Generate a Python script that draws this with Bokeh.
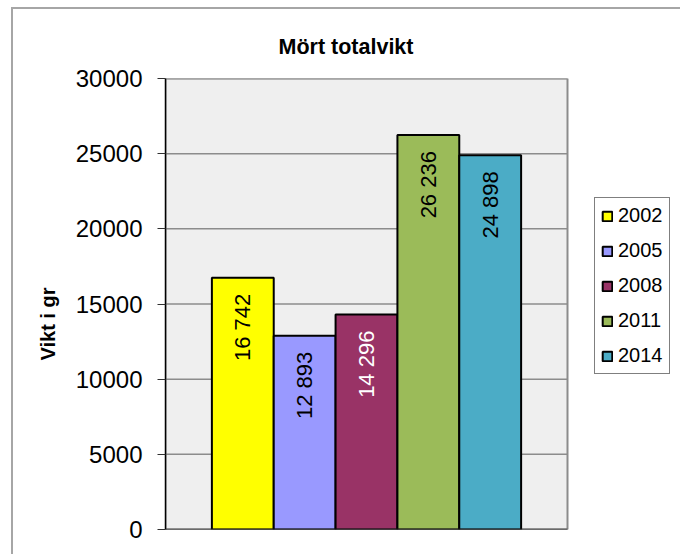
import math
from bokeh.plotting import figure
from bokeh.models import Range1d, FixedTicker, Legend, LegendItem, Title
from bokeh.core.properties import value
from bokeh.embed import file_html
from bokeh.resources import INLINE

# ---- data ----
title = "Mört totalvikt"
y_label = "Vikt i gr"
years = ["2002", "2005", "2008", "2011", "2014"]
weights = [16742, 12893, 14296, 26236, 24898]
y_ticks = [0, 5000, 10000, 15000, 20000, 25000, 30000]

# ---- styles ----
colors = ["#FFFF00", "#9999FF", "#993366", "#9BBB59", "#4BACC6"]
label_colors = ["black", "black", "white", "black", "black"]
FONT = "Liberation Sans"

W, H = 680, 554
FL, FT, FR, FB = 165, 78, 0, 25
AREA_W = 402            # pixel width of the grey plot area
YMAX = 30000
frame_w = W - FL - FR
XMAX = frame_w / AREA_W  # frame also holds the legend, right of the plot area

p = figure(width=W, height=H, output_backend="svg", toolbar_location=None,
           x_range=Range1d(0, XMAX), y_range=Range1d(0, YMAX),
           min_border_left=FL, min_border_right=FR,
           min_border_top=FT, min_border_bottom=FB,
           background_fill_color=None, border_fill_color=None)
p.outline_line_color = None

# outer chart border (only its left and top edges are inside the window)
line = "linear-gradient(#A6A6A6, #A6A6A6)"
p.styles = {
    "background": f"{line} 11px 7px / 2px 100% no-repeat, "
                  f"{line} 11px 7px / 100% 2px no-repeat, white",
}

# grey plot area with its border
p.quad(left=0, right=1, bottom=0, top=YMAX, fill_color="#EFEFEF",
       line_color="#8C8C8C", line_width=2)
# horizontal gridlines, only across the plot area
p.segment(x0=[0] * len(y_ticks), x1=[1] * len(y_ticks), y0=y_ticks, y1=y_ticks,
          line_color="#8C8C8C", line_width=1.5)

# bars (Excel-like gap width of 150%)
n = len(years)
gap = 1.5
bw = 1.0 / (n + gap)
xs = [0.5 + (i - (n - 1) / 2) * bw for i in range(n)]
items = []
for i, yr in enumerate(years):
    r = p.vbar(x=[xs[i]], top=[weights[i]], bottom=0, width=bw,
               fill_color=colors[i], line_color="black", line_width=2)
    items.append(LegendItem(label=yr, renderers=[r]))

# bottom edge of the plot area
p.segment(x0=[0], x1=[1], y0=[0], y1=[0], line_color="#303030", line_width=1.5)

# value labels
p.text(x=xs, y=weights, text=[f"{w:,}".replace(",", " ") for w in weights],
       angle=math.pi / 2, text_align="right", text_baseline="middle",
       y_offset=16, text_color=label_colors,
       text_font=value(FONT), text_font_size=value("22px"))

# axes
p.yaxis.ticker = FixedTicker(ticks=y_ticks)
p.ygrid.visible = False
p.xgrid.visible = False
p.yaxis.minor_tick_line_color = None
p.yaxis.major_tick_in = 0
p.yaxis.major_tick_out = 8
p.yaxis.major_tick_line_color = "#303030"
p.yaxis.major_tick_line_width = 1
p.yaxis.axis_line_color = "black"
p.yaxis.axis_line_width = 1.5
p.yaxis.major_label_text_font = FONT
p.yaxis.major_label_text_font_size = "24px"
p.yaxis.major_label_text_color = "black"
p.yaxis.major_label_standoff = 15
p.xaxis.visible = False

# title
p.title.text = title
p.title.align = "left"
p.title.offset = 113
p.title.text_font = FONT
p.title.text_font_style = "bold"
p.title.text_font_size = "21.5px"
p.title.text_color = "black"
p.title.vertical_align = "bottom"
p.title.standoff = 40

# y label as a side title, so that it can sit below the frame's centre
ylab = Title(text=y_label, align="left", offset=169, text_font=FONT,
             text_font_style="bold", text_font_size="20px", text_color="black",
             vertical_align="bottom", standoff=28)
p.add_layout(ylab, "left")

# legend, right of the plot area
legend = Legend(items=items, location=(429, 155),
                border_line_color="black", border_line_width=1,
                background_fill_color="white", background_fill_alpha=1,
                label_text_font=FONT, label_text_font_size="20px",
                label_text_color="black",
                glyph_width=12, glyph_height=12, label_standoff=5,
                spacing=12, padding=6, margin=0)
p.add_layout(legend)

open("out.html", "w").write(file_html(p, INLINE))
